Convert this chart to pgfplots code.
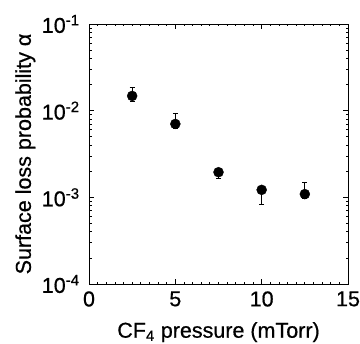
\documentclass[border=0pt]{standalone}
\usepackage{fontspec}
\setmainfont{Liberation Sans}[FakeBold=0.6]
\usepackage{pgfplots}
\pgfplotsset{compat=1.18}
\begin{document}
\fontsize{21.5}{25}\selectfont
\begin{tikzpicture}
\begin{semilogyaxis}[
  name=ax,
  scale only axis,
  width=259pt, height=260pt,
  xmin=0, xmax=15, ymin=1e-4, ymax=1e-1,
  xtick={0,5,10,15},
  minor x tick num=9,
  ytick={1e-4,1e-3,1e-2,1e-1},
  yticklabels={10\textsuperscript{-4},10\textsuperscript{-3},10\textsuperscript{-2},10\textsuperscript{-1}},
  /pgf/number format/assume math mode=true,
  tick align=inside,
  major tick length=5pt,
  minor tick length=2.5pt,
  every tick/.style={black, line width=0.8pt},
  axis line style={line width=1pt},
  tick label style={font=\fontsize{21.5}{25}\selectfont},
  label style={font=\fontsize{21.5}{25}\selectfont},
  xlabel={CF\textsubscript{4} pressure (mTorr)},
  ylabel={Surface loss probability α},
  xlabel style={yshift=-1pt},
  ylabel style={yshift=-8pt},
  yticklabel style={xshift=-2pt},
]
\addplot[only marks, mark=*, mark size=5pt, black,
  error bars/.cd, y dir=both, y explicit,
  error bar style={line width=1pt},
  error mark options={rotate=90, mark size=2.5pt, line width=1pt}]
  coordinates {
  (2.5,0.0148) +- (0,0.0038) -= (0,0.0022)
  (5,0.00703) +- (0,0.0023) -= (0,0.0008)
  (7.5,0.00195) +- (0,0.00018) -= (0,0.00029)
  (10,0.00122) +- (0,0.00008) -= (0,0.0004)
  (12.5,0.00109) +- (0,0.0004) -= (0,0.00013)
  };
\end{semilogyaxis}
\pgfresetboundingbox
\path ([shift={(-89pt,-59pt)}]ax.south west) rectangle ([shift={(12pt,24pt)}]ax.north east);
\end{tikzpicture}
\end{document}
